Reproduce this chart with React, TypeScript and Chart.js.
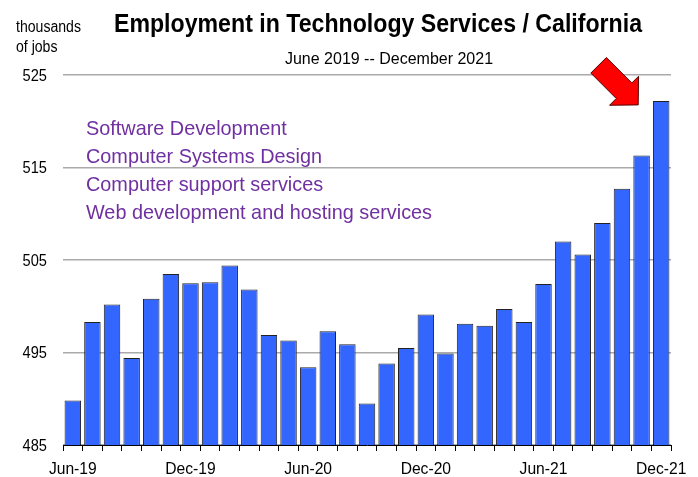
import React, { useEffect, useRef } from "react";
import { Chart, registerables } from "chart.js";

Chart.register(...registerables);

const months: string[] = [
  "Jun-19", "Jul-19", "Aug-19", "Sep-19", "Oct-19", "Nov-19",
  "Dec-19", "Jan-20", "Feb-20", "Mar-20", "Apr-20", "May-20",
  "Jun-20", "Jul-20", "Aug-20", "Sep-20", "Oct-20", "Nov-20",
  "Dec-20", "Jan-21", "Feb-21", "Mar-21", "Apr-21", "May-21",
  "Jun-21", "Jul-21", "Aug-21", "Sep-21", "Oct-21", "Nov-21",
  "Dec-21",
];

const jobs: number[] = [
  489.8, 498.3, 500.2, 494.4, 500.8, 503.5,
  502.5, 502.6, 504.4, 501.8, 496.9, 496.3,
  493.4, 497.3, 495.9, 489.5, 493.8, 495.5,
  499.1, 494.9, 498.1, 497.9, 499.7, 498.3,
  502.4, 507.0, 505.6, 509.0, 512.7, 516.3,
  522.2,
];

const yTicks: number[] = [485, 495, 505, 515, 525];

const legendLines: string[] = [
  "Software Development",
  "Computer Systems Design",
  "Computer support services",
  "Web development and hosting services",
];

const titleText = "Employment in Technology Services / California";
const subtitleText = "June 2019 -- December 2021";
const unitLines: string[] = ["thousands", "of jobs"];

const FONT = "'Liberation Sans', Arial, sans-serif";

function drawText(
  ctx: CanvasRenderingContext2D,
  text: string,
  x: number,
  y: number,
  font: string,
  sx: number,
  align: CanvasTextAlign,
  baseline: CanvasTextBaseline = "alphabetic"
) {
  ctx.save();
  ctx.font = font;
  ctx.textAlign = align;
  ctx.textBaseline = baseline;
  ctx.translate(x, y);
  ctx.scale(sx, 1);
  ctx.fillText(text, 0, 0);
  ctx.restore();
}

const annotations = {
  id: "annotations",
  afterDraw(chart: any) {
    const ctx = chart.ctx as CanvasRenderingContext2D;
    ctx.save();
    ctx.fillStyle = "#000";
    // Title
    drawText(ctx, titleText, 378, 32, `bold 26px ${FONT}`, 0.89, "center");
    drawText(ctx, subtitleText, 389, 64, `16px ${FONT}`, 1.0, "center");
    // Unit label
    drawText(ctx, unitLines[0], 16, 32, `16px ${FONT}`, 0.88, "left");
    drawText(ctx, unitLines[1], 16, 52, `16px ${FONT}`, 0.88, "left");

    // Y tick labels
    const ys = chart.scales.y;
    yTicks.forEach((v) => {
      drawText(ctx, String(v), 47, ys.getPixelForValue(v) + 1, `17px ${FONT}`, 0.86, "right", "middle");
    });
    // X tick labels
    const xs = chart.scales.x;
    months.forEach((m, i) => {
      if (i % 6 === 0) {
        drawText(ctx, m, xs.getPixelForValue(i), 474, `17px ${FONT}`, 0.92, "center");
      }
    });

    // Legend-like text
    ctx.fillStyle = "#7030A0";
    legendLines.forEach((t, i) => {
      drawText(ctx, t, 86, 135 + i * 28, `21px ${FONT}`, 0.945, "left");
    });

    // Arrow pointing at last bar
    const meta = chart.getDatasetMeta(0);
    const last = meta.data[meta.data.length - 1];
    if (last) {
      const tipX = last.x - 23;
      const tipY = last.y + 4;
      const s = Math.SQRT1_2;
      const dx = s, dy = s;
      const nx = s, ny = -s;
      const headLen = 20;
      const headHalf = 20.5;
      const shaftHalf = 11;
      const len = 56;
      const bx = tipX - dx * headLen, by = tipY - dy * headLen;
      const tx = tipX - dx * len, ty = tipY - dy * len;
      ctx.beginPath();
      ctx.moveTo(tipX, tipY);
      ctx.lineTo(bx + nx * headHalf, by + ny * headHalf);
      ctx.lineTo(bx + nx * shaftHalf, by + ny * shaftHalf);
      ctx.lineTo(tx + nx * shaftHalf, ty + ny * shaftHalf);
      ctx.lineTo(tx - nx * shaftHalf, ty - ny * shaftHalf);
      ctx.lineTo(bx - nx * shaftHalf, by - ny * shaftHalf);
      ctx.lineTo(bx - nx * headHalf, by - ny * headHalf);
      ctx.closePath();
      ctx.fillStyle = "#FF0000";
      ctx.fill();
      ctx.strokeStyle = "#550000";
      ctx.lineWidth = 1;
      ctx.stroke();
    }
    ctx.restore();
  },
};

export default function App() {
  const ref = useRef<HTMLCanvasElement | null>(null);

  useEffect(() => {
    document.body.style.margin = "0";
    const canvas = ref.current;
    if (!canvas) return;
    const chart = new Chart(canvas, {
      type: "bar",
      data: {
        labels: months,
        datasets: [
          {
            data: jobs,
            backgroundColor: "#3366FF",
            borderColor: "#222222",
            borderWidth: 1,
            barPercentage: 0.84,
            categoryPercentage: 1,
          },
        ],
      },
      options: {
        responsive: false,
        animation: false,
        devicePixelRatio: 1,
        layout: { padding: { top: 75, right: 27, left: 0, bottom: 0 } },
        plugins: {
          legend: { display: false },
          title: { display: false },
          tooltip: { enabled: false },
        },
        scales: {
          x: {
            offset: true,
            grid: {
              offset: true,
              drawOnChartArea: false,
              drawTicks: true,
              tickLength: 6,
              color: "#000",
            },
            border: { display: true, color: "#000", width: 1 },
            ticks: {
              autoSkip: false,
              maxRotation: 0,
              minRotation: 0,
              color: "rgba(0,0,0,0)",
              font: { family: FONT, size: 17 },
            },
            afterFit: (scale: any) => {
              scale.height = 32;
            },
          },
          y: {
            min: yTicks[0],
            max: yTicks[yTicks.length - 1],
            afterBuildTicks: (scale: any) => {
              scale.ticks = yTicks.map((v) => ({ value: v }));
            },
            grid: {
              color: "#AAAAAA",
              lineWidth: 1.5,
              drawTicks: false,
            },
            border: { display: false },
            ticks: {
              color: "rgba(0,0,0,0)",
              font: { family: FONT, size: 17 },
            },
            afterFit: (scale: any) => {
              scale.width = 63;
            },
          },
        },
      },
      plugins: [annotations],
    });
    return () => chart.destroy();
  }, []);

  return <canvas ref={ref} width={698} height={477} style={{ display: "block" }} />;
}
